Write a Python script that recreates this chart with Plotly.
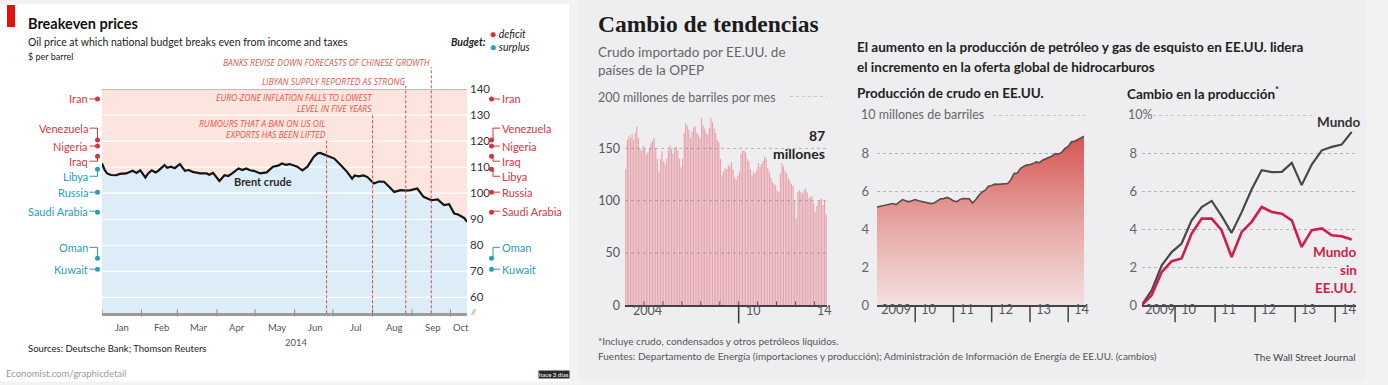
import plotly.graph_objects as go
import pandas as pd

W, H = 1388, 385
# the photographed page maps paper height onto ~0.96*H starting ~7px down; compensate so marks land where the reference has them
OFF, SC = 7.0, 0.96
def P(x): return x / W
def Q(y): return 1 - (y - OFF) / (SC * H)

# ---------------- Economist: Breakeven prices ----------------
brent_dates = ["2014-01-01","2014-01-03","2014-01-05","2014-01-08","2014-01-12","2014-01-15","2014-01-20","2014-01-23",
    "2014-01-25","2014-01-28","2014-01-31","2014-02-04","2014-02-06","2014-02-09","2014-02-12","2014-02-14","2014-02-19",
    "2014-02-21","2014-02-24","2014-02-27","2014-03-03","2014-03-07","2014-03-10","2014-03-13","2014-03-17","2014-03-19",
    "2014-03-24","2014-03-26","2014-03-29","2014-04-03","2014-04-07","2014-04-10","2014-04-13","2014-04-18","2014-04-21",
    "2014-04-24","2014-04-27","2014-04-30","2014-05-05","2014-05-10","2014-05-15","2014-05-19","2014-05-22","2014-05-25",
    "2014-05-28","2014-06-03","2014-06-07","2014-06-11","2014-06-16","2014-06-19","2014-06-21","2014-06-26","2014-07-02",
    "2014-07-07","2014-07-12","2014-07-16","2014-07-18","2014-07-21","2014-07-25","2014-07-28","2014-08-02","2014-08-06",
    "2014-08-10","2014-08-14","2014-08-18","2014-08-23","2014-08-27","2014-08-31","2014-09-05","2014-09-10","2014-09-13",
    "2014-09-16","2014-09-21","2014-09-26","2014-09-30","2014-10-04","2014-10-07","2014-10-09","2014-10-12","2014-10-14"]
brent_values = [111.4,109.0,107.6,107.0,106.9,107.4,107.6,108.3,
    108.6,107.8,108.8,106.0,107.5,108.8,108.0,108.6,110.8,
    109.8,110.2,109.6,111.2,108.6,108.9,108.2,107.9,107.6,
    107.6,107.1,107.8,104.7,106.9,106.6,107.6,109.5,108.9,
    109.5,108.8,108.6,107.6,108.0,110.2,110.6,111.4,110.9,
    111.2,110.2,108.8,110.2,114.0,115.3,115.5,114.6,113.3,
    110.8,108.2,105.6,106.8,106.5,106.8,106.2,103.7,104.5,
    104.4,102.5,100.5,101.2,101.0,101.2,101.8,98.6,98.0,
    97.3,97.6,95.4,95.8,92.2,91.8,91.2,90.4,89.0]

month_labels = ["Jan","Feb","Mar","Apr","May","Jun","Jul","Aug","Sep","Oct"]
month_label_dates = ["2014-01-17","2014-02-17","2014-03-18","2014-04-17","2014-05-18",
                     "2014-06-17","2014-07-19","2014-08-18","2014-09-17","2014-10-09"]
month_starts = ["2014-01-01","2014-02-01","2014-03-01","2014-04-01","2014-05-01",
                "2014-06-01","2014-07-01","2014-08-01","2014-09-01","2014-10-01"]
price_ticks = [60, 70, 80, 90, 100, 110, 120, 130, 140]

countries = ["Iran","Venezuela","Nigeria","Iraq","Libya","Russia","Saudi Arabia","Oman","Kuwait"]
breakeven = [136.2, 120.4, 118.1, 114.2, 109.2, 100.4, 92.7, 75.0, 70.8]
label_level = [136.2, 125.0, 118.1, 112.3, 106.5, 100.4, 93.1, 79.2, 70.8]

event_dates = ["2014-06-26", "2014-08-01", "2014-08-27", "2014-09-16"]
event_texts = ["RUMOURS THAT A BAN ON US OIL<br>EXPORTS HAS BEEN LIFTED",
               "EURO-ZONE INFLATION FALLS TO LOWEST<br>LEVEL IN FIVE YEARS",
               "LIBYAN SUPPLY REPORTED AS STRONG",
               "BANKS REVISE DOWN FORECASTS OF CHINESE GROWTH"]

# ---------------- WSJ: Cambio de tendencias ----------------
opec_imports = [
    130,158,162,160,164,158,165,171,160,150,148,153,   # 2004
    150,144,146,150,155,157,160,150,140,128,140,147,   # 2005
    138,135,140,148,153,150,145,150,152,148,140,132,   # 2006
    140,165,174,172,168,160,166,170,171,165,163,160,   # 2007
    179,172,169,165,163,170,179,175,169,165,158,156,   # 2008
    140,124,128,131,130,134,133,137,130,122,120,124,   # 2009
    128,145,148,148,146,140,138,130,124,128,126,130,   # 2010
    136,132,135,138,142,140,131,128,122,118,116,115,   # 2011
    110,108,126,136,133,128,126,122,119,116,114,100,   # 2012
    83,108,110,108,107,110,112,108,102,104,104,98,     # 2013
    89,95,99,101,102,96,100,87]                        # 2014
opec_years = ["2004", "10", "14"]

us_production = [
    5.17,5.20,5.25,5.26,5.30,5.35,5.30,5.45,5.56,5.50,5.44,5.50,   # 2009
    5.56,5.50,5.47,5.44,5.42,5.35,5.38,5.50,5.60,5.61,5.67,5.60,   # 2010
    5.49,5.45,5.55,5.61,5.62,5.60,5.38,5.55,5.79,5.95,6.05,6.26,   # 2011
    6.30,6.37,6.36,6.38,6.37,6.40,6.58,6.93,6.95,7.19,7.30,7.37,   # 2012
    7.40,7.45,7.54,7.50,7.63,7.70,7.81,7.85,7.98,7.95,8.05,8.25,   # 2013
    8.35,8.60,8.62,8.72,8.80,8.89]                                 # 2014

world_change = [0, 0.79, 2.1, 2.8, 3.25, 4.47, 5.17, 5.49, 4.7, 3.81, 4.9,
                6.1, 7.1, 7.0, 7.02, 7.49, 6.32, 7.4, 8.15, 8.33, 8.45, 9.12]
world_ex_us_change = [0, 0.53, 1.75, 2.32, 2.46, 3.77, 4.56, 4.56, 3.95, 2.54, 3.86,
                      4.39, 5.17, 4.91, 4.82, 4.47, 3.07, 3.95, 4.04, 3.68, 3.63, 3.46]
year_labels = ["2009", "10", "11", "12", "13", "14"]

RED = "#d2363f"
TEAL = "#2b9cbb"
PANEL = "#eeeef0"
SANS = "Lato, 'Noto Sans', sans-serif"
NARROW = "'Liberation Sans Narrow', 'Open Sans', Lato, sans-serif"

fig = go.Figure()
shapes = []
ann = []

def txt(x, y, text, size, color, bold=False, anchor="left", family=SANS, italic=False,
        xref="paper", yref="paper", yanchor="middle", bg=None, align=None):
    d = dict(x=x, y=y, xref=xref, yref=yref, text=(f"<b>{text}</b>" if bold else text),
             showarrow=False, xanchor=anchor, yanchor=yanchor,
             font=dict(size=size, color=color, family=family, style="italic" if italic else "normal"),
             align=align or anchor, borderpad=0)
    if bg:
        d["bgcolor"] = bg
    ann.append(d)

# panels
shapes.append(dict(type="rect", xref="paper", yref="paper", x0=P(0), x1=P(569), y0=Q(381), y1=Q(4),
                   fillcolor="white", line_width=0, layer="below"))
shapes.append(dict(type="rect", xref="paper", yref="paper", x0=P(578), x1=P(1366), y0=Q(378), y1=Q(-2),
                   fillcolor=PANEL, line_width=0, layer="below"))
# economist red tag
shapes.append(dict(type="rect", xref="paper", yref="paper", x0=P(7), x1=P(15), y0=Q(27), y1=Q(5),
                   fillcolor="#e3120b", line_width=0, layer="above"))
# deficit background
shapes.append(dict(type="rect", xref="x domain", yref="y domain", x0=0, x1=1, y0=0, y1=1,
                   fillcolor="#fde5df", line_width=0, layer="below"))

x_start, x_end = "2014-01-01", "2014-10-14"
ybot = 140 - (313 - 89) / 2.6

# surplus fill under Brent
fig.add_trace(go.Scatter(x=brent_dates, y=brent_values, mode="lines", line=dict(width=0),
                         fill="tozeroy", fillcolor="#dcedf8", hoverinfo="skip", showlegend=False,
                         xaxis="x", yaxis="y"))
# white gridlines above fills
gx, gy = [], []
for t in price_ticks[:-1]:
    gx += [x_start, x_end, None]
    gy += [t, t, None]
fig.add_trace(go.Scatter(x=gx, y=gy, mode="lines", line=dict(color="white", width=1.2),
                         hoverinfo="skip", showlegend=False, xaxis="x", yaxis="y"))
# Brent line
fig.add_trace(go.Scatter(x=brent_dates, y=brent_values, mode="lines", line=dict(color="#151515", width=2.2),
                         showlegend=False, xaxis="x", yaxis="y"))

# top line at 140
shapes.append(dict(type="line", xref="x domain", yref="y", x0=0, x1=1, y0=140, y1=140,
                   line=dict(color="#a8a8a8", width=1.3), layer="above"))
# month ticks
for m in month_starts:
    shapes.append(dict(type="line", xref="x", yref="paper", x0=m, x1=m, y0=Q(316), y1=Q(309),
                       line=dict(color="#8a8a8a", width=1), layer="above"))
for d, l in zip(month_label_dates, month_labels):
    txt(d, Q(327), l, 9.5, "#555", xref="x", anchor="center")
txt(P(296), Q(342), "2014", 9.5, "#555", anchor="center")
txt(P(474), Q(312), "//", 8, "#888", anchor="center")

# events
line_tops = [139, 113, 86, 67]
text_mid = [129, 103, 81, 62]
for d, t, lt, tm in zip(event_dates, event_texts, line_tops, text_mid):
    shapes.append(dict(type="line", xref="x", yref="paper", x0=d, x1=d, y0=Q(313), y1=Q(lt),
                       line=dict(color="#c9504a", width=1, dash="3px,2px"), layer="above"))
    txt(d, Q(tm), t, 8.5, "#e0554a", italic=True, xref="x", anchor="right", family=NARROW)

txt(P(263), Q(181), "Brent crude", 11, "#2a2a2a", bold=True, anchor="center")

# country markers and labels (overlay axis in pixel units)
first, last = brent_values[0], brent_values[-1]
for c, b, lab in zip(countries, breakeven, label_level):
    lc = RED if b > first else TEAL
    rc = RED if b > last else TEAL
    fig.add_trace(go.Scatter(x=[89.5, 97.5, 97.5], y=[lab, lab, b], mode="lines",
                             line=dict(color=lc, width=1), hoverinfo="skip", showlegend=False,
                             xaxis="x2", yaxis="y2", cliponaxis=False))
    fig.add_trace(go.Scatter(x=[97.5], y=[b], mode="markers", marker=dict(color=lc, size=5),
                             showlegend=False, xaxis="x2", yaxis="y2", cliponaxis=False))
    fig.add_trace(go.Scatter(x=[493, 493, 500], y=[b, lab, lab], mode="lines",
                             line=dict(color=rc, width=1), hoverinfo="skip", showlegend=False,
                             xaxis="x2", yaxis="y2", cliponaxis=False))
    fig.add_trace(go.Scatter(x=[491.5], y=[b], mode="markers", marker=dict(color=rc, size=5),
                             showlegend=False, xaxis="x2", yaxis="y2", cliponaxis=False))
    txt(89, lab, c, 11, lc, xref="x2", yref="y2", anchor="right")
    txt(501, lab, c, 11, rc, xref="x2", yref="y2", anchor="left")

# Economist texts
txt(P(27), Q(23), "Breakeven prices", 14.5, "#111", bold=True)
txt(P(27), Q(42), "Oil price at which national budget breaks even from income and taxes", 10.5, "#222")
txt(P(27), Q(56), "$ per barrel", 9, "#222")
txt(P(487), Q(42), "Budget:", 10.5, "#222", bold=True, italic=True, anchor="right")
txt(P(489), Q(34), f"<span style='color:{RED}'>●</span> deficit", 10.5, "#222", italic=True)
txt(P(489), Q(47), f"<span style='color:{TEAL}'>●</span> surplus", 10.5, "#222", italic=True)
txt(P(27), Q(348), "Sources: Deutsche Bank; Thomson Reuters", 9.5, "#222")
txt(P(5), Q(373), "Economist.com/graphicdetail", 9.5, "#9a9a9a")
txt(P(554), Q(374), "hace 3 días", 6, "white", anchor="center", bg="#2a2a2a")

# ---------------- WSJ: bars ----------------
bar_x = pd.date_range("2004-01-01", periods=len(opec_imports), freq="MS") + pd.Timedelta(days=15)
fig.add_trace(go.Bar(x=bar_x, y=opec_imports, marker=dict(color="#e8a4ad", line=dict(width=0)),
                     showlegend=False, xaxis="x3", yaxis="y3"))
for v in [50, 100, 150]:
    shapes.append(dict(type="line", xref="x3 domain", yref="y3", x0=0, x1=1, y0=v, y1=v,
                       line=dict(color="rgba(120,100,100,0.45)", width=1, dash="dot"), layer="above"))
shapes.append(dict(type="line", xref="paper", yref="y3", x0=P(790), x1=P(827), y0=200, y1=200,
                   line=dict(color="#aaa", width=1, dash="dot"), layer="above"))
for yr in range(2005, 2015):
    shapes.append(dict(type="line", xref="x3", yref="paper", x0=f"{yr}-01-01", x1=f"{yr}-01-01",
                       y0=Q(305), y1=Q(301), line=dict(color="#555", width=1), layer="above"))
shapes.append(dict(type="line", xref="x3", yref="paper", x0="2010-01-01", x1="2010-01-01",
                   y0=Q(305), y1=Q(323), line=dict(color="#333", width=1.5), layer="above"))
for yr, lab, sh in zip(["2004-01-01", "2010-01-01", "2014-01-01"], opec_years, [6, 5, 1]):
    ann.append(dict(x=yr, y=Q(320), xref="x3", yref="paper", text=lab, showarrow=False, xanchor="left",
                    xshift=sh, font=dict(size=12.5, color="#555", family=SANS)))

# ---------------- WSJ: US production ----------------
prod_x = pd.date_range("2009-01-01", periods=len(us_production), freq="MS")
fig.add_trace(go.Scatter(x=prod_x, y=us_production, mode="lines", line=dict(color="#5b4a4a", width=1.6),
                         fill="tozeroy",
                         fillgradient=dict(type="vertical", colorscale=[[0, "#f3e6e6"], [0.5, "#e6a6a2"], [1, "#d4544f"]],
                                           start=0, stop=9),
                         showlegend=False, xaxis="x4", yaxis="y4"))
shapes.append(dict(type="line", xref="paper", yref="y4", x0=P(993), x1=P(1085), y0=10, y1=10,
                   line=dict(color="#aaa", width=1, dash="dot"), layer="above"))

# ---------------- WSJ: world production change ----------------
world_x = pd.date_range("2009-03-01", periods=len(world_change), freq="3MS")
fig.add_trace(go.Scatter(x=world_x, y=world_change, mode="lines", line=dict(color="#484848", width=2.2),
                         showlegend=False, xaxis="x5", yaxis="y5"))
fig.add_trace(go.Scatter(x=world_x, y=world_ex_us_change, mode="lines", line=dict(color="#cf1f48", width=2.6),
                         showlegend=False, xaxis="x5", yaxis="y5"))
shapes.append(dict(type="line", xref="paper", yref="y5", x0=P(1153), x1=P(1313), y0=10, y1=10,
                   line=dict(color="#aaa", width=1, dash="dot"), layer="above"))

for xa in ["x4", "x5"]:
    for yr in range(2010, 2015):
        shapes.append(dict(type="line", xref=xa, yref="paper", x0=f"{yr}-01-01", x1=f"{yr}-01-01",
                           y0=Q(305), y1=Q(322), line=dict(color="#444", width=1.5), layer="above"))
for i, lab in enumerate(year_labels):
    yr = 2009 + i
    ann.append(dict(x=f"{yr}-01-01", y=Q(319), xref="x4", yref="paper", text=lab, showarrow=False,
                    xanchor="left", xshift=2 if i == 0 else 4, font=dict(size=13, color="#555", family=SANS)))
    if i == 0:
        ann.append(dict(x=P(1143), y=Q(319), xref="paper", yref="paper", text=lab, showarrow=False,
                        xanchor="left", font=dict(size=13, color="#555", family=SANS)))
    else:
        ann.append(dict(x=f"{yr}-01-01", y=Q(319), xref="x5", yref="paper", text=lab,
                        showarrow=False, xanchor="left", xshift=4,
                        font=dict(size=13, color="#555", family=SANS)))

# WSJ texts
txt(P(597), Q(24), "Cambio de tendencias", 23.5, "#1c1c1c", bold=True, family="'Liberation Serif', serif")
txt(P(597), Q(52), "Crudo importado por EE.UU. de", 13.5, "#666")
txt(P(597), Q(70), "países de la OPEP", 13.5, "#666")
txt(P(597), Q(97), "200 millones de barriles por mes", 12.5, "#666")
txt(P(826), Q(135), "87", 14, "#222", bold=True, anchor="right")
txt(P(826), Q(153), "millones", 14, "#222", bold=True, anchor="right")
txt(P(856), Q(47), "El aumento en la producción de petróleo y gas de esquisto en EE.UU. lidera", 13.5, "#222", bold=True)
txt(P(856), Q(67), "el incremento en la oferta global de hidrocarburos", 13.5, "#222", bold=True)
txt(P(856), Q(93), "Producción de crudo en EE.UU.", 13.5, "#222", bold=True)
txt(P(860), Q(114), "10 millones de barriles", 12.5, "#666")
txt(P(1126), Q(93), "Cambio en la producción<sup>*</sup>", 13.5, "#222", bold=True)
txt(P(1127), Q(114), "10%", 12.5, "#666")
txt(P(1362), Q(122), "Mundo", 13.5, "#333", bold=True, anchor="right")
for yy, t in zip([252, 270, 288], ["Mundo", "sin", "EE.UU."]):
    txt(P(1358), Q(yy), t, 13.5, "#cf1f48", bold=True, anchor="right", bg=PANEL)
txt(P(597), Q(341), "*Incluye crudo, condensados y otros petróleos líquidos.", 10, "#555")
txt(P(597), Q(356), "Fuentes: Departamento de Energía (importaciones y producción); Administración de Información de Energía de EE.UU. (cambios)", 10, "#555")
txt(P(1357), Q(357), "The Wall Street Journal", 10, "#444", anchor="right")

axis_off = dict(visible=False, fixedrange=True)
econ_dom_y = [Q(313), Q(89)]
fig.update_layout(
    width=W, height=H, autosize=False,
    margin=dict(l=0, r=0, t=0, b=0),
    paper_bgcolor="#f2f2f2", plot_bgcolor="rgba(0,0,0,0)",
    showlegend=False, bargap=0.2,
    font=dict(family=SANS),
    shapes=shapes, annotations=ann,
    xaxis=dict(domain=[P(102), P(467)], range=[x_start, x_end], type="date", showgrid=False,
               showticklabels=False, ticks="", showline=True, linecolor="#9c9c9c", linewidth=2.5,
               zeroline=False, anchor="y"),
    yaxis=dict(domain=econ_dom_y, range=[ybot, 140], side="right", tickvals=price_ticks,
               showgrid=False, zeroline=False, ticks="", showline=False, anchor="x",
               tickfont=dict(size=11.5, color="#333", family=SANS), ticklabelstandoff=2),
    xaxis2=dict(domain=[0, P(568)], range=[0, 568], anchor="y2", **axis_off),
    yaxis2=dict(domain=econ_dom_y, range=[ybot, 140], anchor="x2", **axis_off),
    xaxis3=dict(domain=[P(625), P(827)], range=["2004-01-01", "2014-09-01"], type="date", anchor="y3",
                showgrid=False, showticklabels=False, ticks="", showline=True, linecolor="#444",
                linewidth=1.5, zeroline=False),
    yaxis3=dict(domain=[Q(305), Q(96)], range=[0, 200], anchor="x3", tickvals=[0, 50, 100, 150],
                showgrid=False, zeroline=False, ticks="", tickfont=dict(size=12.5, color="#555"),
                ticklabelstandoff=4),
    xaxis4=dict(domain=[P(877), P(1086)], range=["2009-01-01", "2014-06-20"], type="date", anchor="y4",
                showgrid=False, showticklabels=False, ticks="", showline=True, linecolor="#444",
                linewidth=1.5, zeroline=False),
    yaxis4=dict(domain=[Q(305), Q(115)], range=[0, 10], anchor="x4", tickvals=[0, 2, 4, 6, 8],
                showgrid=True, gridcolor="#b4b4b4", griddash="dot", gridwidth=1, zeroline=False, ticks="",
                tickfont=dict(size=13, color="#666"), ticklabelstandoff=7),
    xaxis5=dict(domain=[P(1142), P(1356)], range=["2009-03-05", "2014-07-10"], type="date", anchor="y5",
                showgrid=False, showticklabels=False, ticks="", showline=True, linecolor="#444",
                linewidth=1.5, zeroline=False),
    yaxis5=dict(domain=[Q(305), Q(115)], range=[0, 10], anchor="x5", tickvals=[0, 2, 4, 6, 8],
                showgrid=True, gridcolor="#b4b4b4", griddash="dot", gridwidth=1, zeroline=False, ticks="",
                tickfont=dict(size=13, color="#666"), ticklabelstandoff=4),
)

fig.write_html("out.html", config={"displayModeBar": False, "staticPlot": True},
               post_script="document.body.style.margin='0px';document.body.style.overflow='hidden';")
